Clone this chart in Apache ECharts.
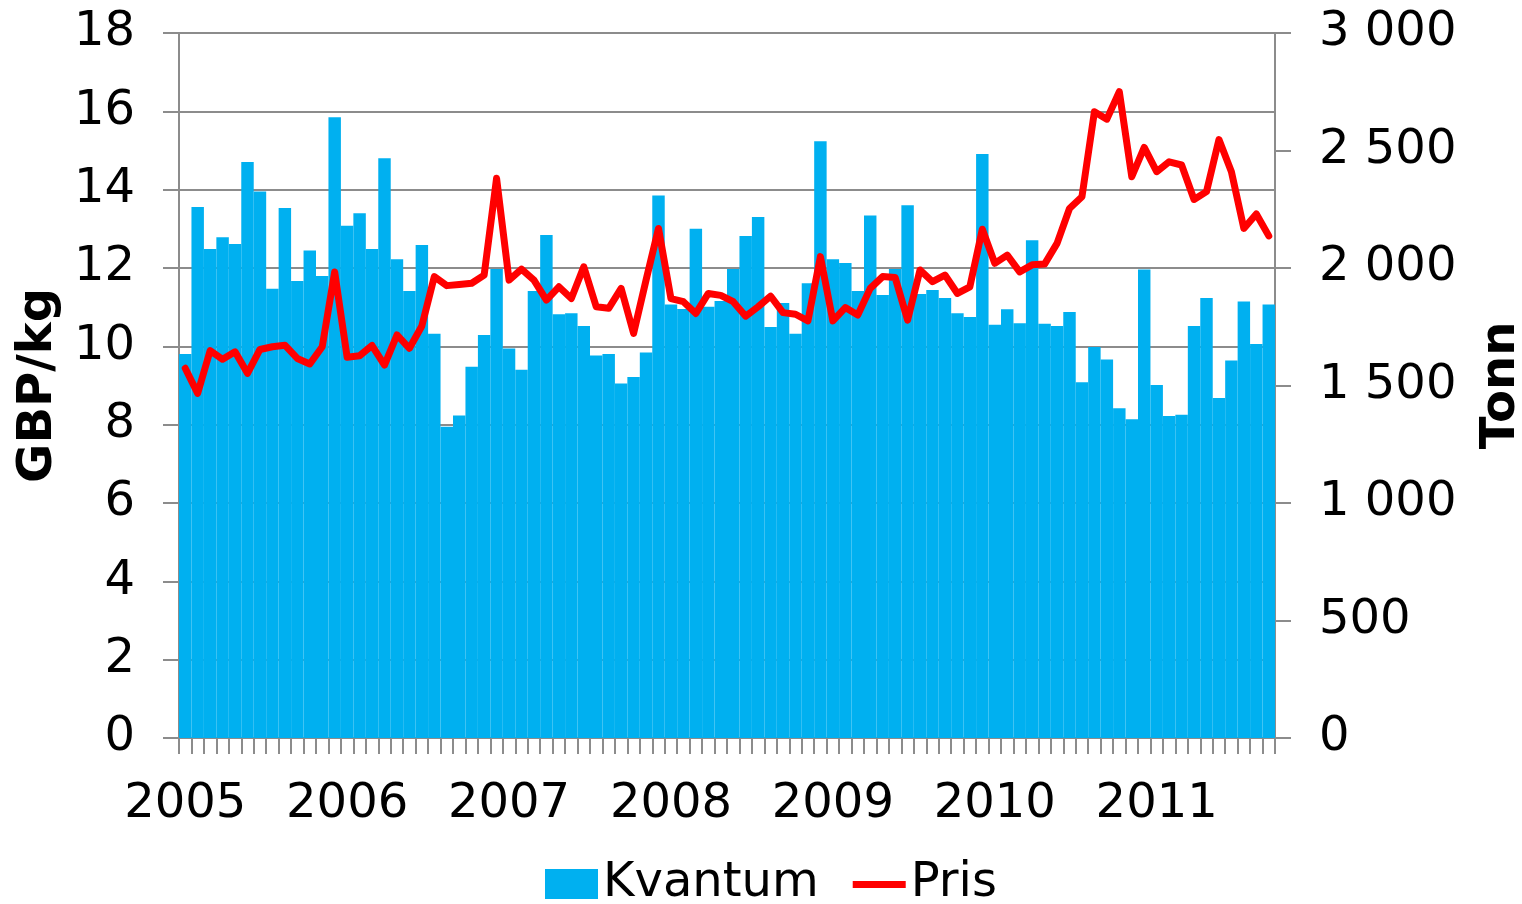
<!DOCTYPE html>
<html>
<head>
<meta charset="utf-8">
<script src="https://cdn.jsdelivr.net/npm/echarts@6/dist/echarts.min.js"></script>
<style>
  html, body { margin: 0; padding: 0; background: #fff; }
  #chart { width: 1522px; height: 904px; }
</style>
</head>
<body>
<div id="chart"></div>
<script>
// 13 perioder per år, 2005 P1 - 2011 P10
const years = ['2005', '2006', '2007', '2008', '2009', '2010', '2011']
const periodsPerYear = 13
const periodCount = 88

// Kvantum (tonn), høyre akse
const kvantum = [
  1634, 2260, 2081, 2131, 2102, 2451, 2326, 1912, 2255, 1945, 2075, 1966, 2641,
  2180, 2233, 2081, 2467, 2037, 1902, 2098, 1720, 1325, 1372, 1580, 1715, 1996,
  1657, 1567, 1902, 2140, 1803, 1807, 1753, 1628, 1634, 1508, 1536, 1640, 2309,
  1845, 1826, 2167, 1835, 1860, 1996, 2136, 2217, 1749, 1851, 1720, 1935, 2539,
  2037, 2021, 1902, 2223, 1885, 1996, 2267, 1889, 1906, 1872, 1807, 1791, 2485,
  1759, 1824, 1765, 2118, 1763, 1753, 1813, 1514, 1664, 1611, 1403, 1356, 1994,
  1502, 1370, 1376, 1753, 1872, 1447, 1606, 1857, 1677, 1845
]

// Pris (GBP/kg), venstre akse
const pris = [
  9.44, 8.80, 9.89, 9.67, 9.86, 9.31, 9.92, 9.99, 10.03, 9.69, 9.55, 9.99, 11.90,
  9.72, 9.76, 10.02, 9.52, 10.29, 9.95, 10.52, 11.78, 11.55, 11.58, 11.61, 11.82, 14.29,
  11.69, 11.97, 11.69, 11.18, 11.52, 11.22, 12.03, 11.01, 10.97, 11.48, 10.33, 11.69, 13.01,
  11.22, 11.14, 10.84, 11.35, 11.30, 11.14, 10.77, 11.01, 11.28, 10.86, 10.82, 10.65, 12.29,
  10.65, 10.99, 10.80, 11.48, 11.78, 11.76, 10.67, 11.95, 11.65, 11.82, 11.35, 11.52, 12.99,
  12.12, 12.33, 11.90, 12.08, 12.10, 12.63, 13.52, 13.82, 15.99, 15.80, 16.50, 14.33, 15.08,
  14.46, 14.71, 14.63, 13.75, 13.95, 15.28, 14.46, 13.01, 13.38, 12.82
]

const leftTicks = { min: 0, max: 18, interval: 2 }
const rightTicks = { min: 0, max: 3000, interval: 500 }

const categories = []
for (let i = 0; i < periodCount; i++) {
  const y = years[Math.floor(i / periodsPerYear)]
  categories.push(y + ' P' + (i % periodsPerYear + 1))
}

const font = 'DejaVu Sans'
const gray = '#8c8c8c'

let myChart = echarts.init(document.getElementById('chart'))
let option = {
  animation: false,
  textStyle: { fontFamily: font, color: '#000' },
  grid: {
    left: 179,
    right: 247,
    top: 33,
    bottom: 166,
    containLabel: false,
    outerBoundsMode: 'none'
  },
  legend: {
    left: 540,
    top: 855,
    itemWidth: 53,
    itemHeight: 30,
    itemGap: 34,
    textStyle: { fontFamily: font, fontSize: 48, color: '#000' },
    data: [
      { name: 'Kvantum', icon: 'rect' },
      { name: 'Pris', icon: 'path://M0,0 M53,30 M0,12 h53 v7 h-53 z' }
    ]
  },
  xAxis: {
    type: 'category',
    data: categories,
    boundaryGap: true,
    axisLine: { lineStyle: { color: gray, width: 2 } },
    axisTick: { show: true, interval: 0, length: 16, lineStyle: { color: gray, width: 2 } },
    axisLabel: {
      interval: periodsPerYear - 1,
      margin: 43,
      fontSize: 48,
      color: '#000',
      fontFamily: font,
      formatter: function (v) { return v.split(' ')[0] }
    }
  },
  yAxis: [
    {
      type: 'value',
      name: 'GBP/kg',
      nameLocation: 'middle',
      nameRotate: 90,
      nameGap: 115,
      nameTextStyle: { fontFamily: font, fontSize: 48, fontWeight: 'bold', color: '#000' },
      min: leftTicks.min,
      max: leftTicks.max,
      interval: leftTicks.interval,
      axisLine: { show: true, lineStyle: { color: gray, width: 2 } },
      axisTick: { show: true, length: 16, lineStyle: { color: gray, width: 2 } },
      axisLabel: { fontSize: 48, margin: 44, color: '#000', fontFamily: font },
      splitLine: { show: true, lineStyle: { color: gray, width: 2 } }
    },
    {
      type: 'value',
      name: 'Tonn',
      nameLocation: 'middle',
      nameRotate: 90,
      nameGap: 203,
      nameTextStyle: { fontFamily: font, fontSize: 48, fontWeight: 'bold', color: '#000' },
      min: rightTicks.min,
      max: rightTicks.max,
      interval: rightTicks.interval,
      position: 'right',
      axisLine: { show: true, lineStyle: { color: gray, width: 2 } },
      axisTick: { show: true, length: 16, lineStyle: { color: gray, width: 2 } },
      axisLabel: {
        fontSize: 48,
        margin: 44,
        color: '#000',
        fontFamily: font,
        formatter: function (v) { return String(v).replace(/\B(?=(\d{3})+(?!\d))/g, ' ') }
      },
      splitLine: { show: false }
    }
  ],
  series: [
    {
      name: 'Kvantum',
      type: 'bar',
      yAxisIndex: 1,
      data: kvantum,
      barCategoryGap: '0%',
      barGap: '0%',
      itemStyle: { color: '#00b0f0' }
    },
    {
      name: 'Pris',
      type: 'line',
      yAxisIndex: 0,
      data: pris,
      symbol: 'none',
      itemStyle: { color: '#ff0000' },
      lineStyle: { color: '#ff0000', width: 7, cap: 'round', join: 'round' }
    }
  ]
}

option && myChart.setOption(option)
</script>
</body>
</html>
